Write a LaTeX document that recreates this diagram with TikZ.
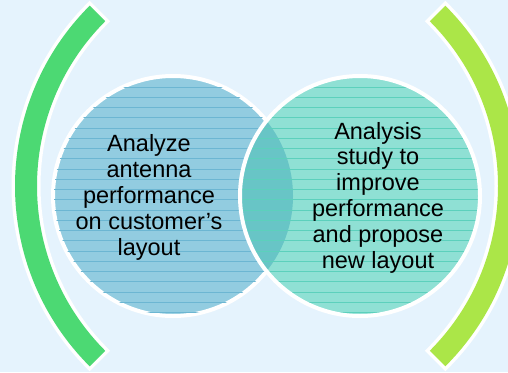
\documentclass[tikz,border=0pt]{standalone}
\usepackage{fontspec}
\setmainfont{Liberation Sans}
\definecolor{bg}{RGB}{229,243,253}
\definecolor{larc}{RGB}{76,217,115}
\definecolor{rarc}{RGB}{171,230,72}
\definecolor{lfill}{RGB}{146,204,224}
\definecolor{rfill}{RGB}{143,224,212}
\definecolor{ofill}{RGB}{104,197,198}
\definecolor{lline}{RGB}{108,182,210}
\definecolor{rline}{RGB}{92,208,188}
\tikzset{
  txt/.style={font=\fontsize{23.5}{25.8}\selectfont, align=center, inner sep=0pt, text=black},
  arcborder/.style={fill=white, draw=white, line width=7pt, line join=miter},
  ring/.style={draw=white, line width=4pt},
}
\begin{document}
\begin{tikzpicture}[x=1pt,y=-1pt]
\useasboundingbox (0,0) rectangle (508,372);
\clip (0,0) rectangle (508,372);
\fill[bg] (0,0) rectangle (508,372);
\coordinate (lc) at (270,186);
\coordinate (rc) at (265,186);
% left arc
\path[arcborder] (lc) ++(135:255) arc[start angle=135,end angle=225,radius=255] -- ++(225:-22) arc[start angle=225,end angle=135,radius=233] -- cycle;
\fill[larc] (lc) ++(135:255) arc[start angle=135,end angle=225,radius=255] -- ++(225:-22) arc[start angle=225,end angle=135,radius=233] -- cycle;
% right arc
\path[arcborder] (rc) ++(-45:255) arc[start angle=-45,end angle=45,radius=255] -- ++(45:-22) arc[start angle=45,end angle=-45,radius=233] -- cycle;
\fill[rarc] (rc) ++(-45:255) arc[start angle=-45,end angle=45,radius=255] -- ++(45:-22) arc[start angle=45,end angle=-45,radius=233] -- cycle;
% circles
\coordinate (L) at (173,196);
\coordinate (R) at (360,196);
\fill[lfill] (L) circle[radius=120];
\draw[ring] (L) circle[radius=120];
\fill[rfill] (R) circle[radius=120];
\begin{scope}
  \clip (L) circle[radius=120];
  \fill[ofill] (R) circle[radius=120];
\end{scope}
\begin{scope}
  \clip (L) circle[radius=119];
  \foreach \i in {-1,...,23} \draw[lline, line width=0.9pt] (40,87+10.25*\i) -- (300,87+10.25*\i);
\end{scope}
\begin{scope}
  \clip (R) circle[radius=119];
  \foreach \i in {-1,...,23} \draw[rline, line width=0.9pt] (230,87+10.25*\i) -- (490,87+10.25*\i);
\end{scope}
\draw[ring] (R) circle[radius=120];
% texts
\node[txt, anchor=base] (lt) at (149,255) {Analyze\\antenna\\performance\\on customer’s\\layout};
\node[txt, anchor=base] (rt) at (378,268) {Analysis\\study to\\improve\\performance\\and propose\\new layout};
\end{tikzpicture}
\end{document}
